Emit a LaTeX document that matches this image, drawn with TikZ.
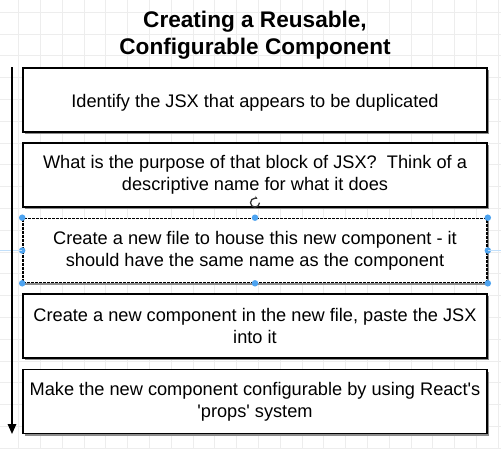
\documentclass[tikz,border=0pt]{standalone}
\usepackage{fontspec}
\setmainfont{Liberation Sans}[Ligatures=TeXOff]
\usetikzlibrary{calc,shadows,arrows.meta}

\definecolor{handle}{RGB}{77,163,240}

\begin{document}
\begin{tikzpicture}[x=1pt,y=-1pt,
   stepbox/.style={draw=black,line width=1.6pt,fill=white,
      minimum width=464pt,minimum height=64pt,inner sep=0pt,align=center,
      font=\fontsize{18.2}{21.8}\selectfont,
      execute at begin node={\rule{0pt}{19.5pt}},
      drop shadow={shadow xshift=2.2pt,shadow yshift=-2.2pt,fill=black!45,opacity=1}},
   grip/.style={fill=handle,draw=none,circle,minimum size=6.5pt,inner sep=0pt}]
   \useasboundingbox (0,0) rectangle (501,448);
   % draw grid
   \foreach \gx in {0,...,22}
      \draw[black!7,line width=0.6pt] ({18.4+21.8*\gx},0) -- ++(0,448);
   \foreach \gy in {0,...,20}
      \draw[black!7,line width=0.6pt] (0,{12+21.8*\gy}) -- ++(501,0);
   % title
   \node (title) [align=center,inner sep=0pt,font=\fontsize{22.6}{27}\selectfont\bfseries]
      at (255,35.6) {Creating a Reusable,\\Configurable Component};
   % steps
   \node (identify) [stepbox] at (255,100) {Identify the JSX that appears to be duplicated};
   \node (purpose) [stepbox] at (255,175)
      {What is the purpose of that block of JSX?\ \ Think of a\\descriptive name for what it does};
   \node (newfile) [stepbox,dash pattern=on 3pt off 1pt] at (255,250.5)
      {Create a new file to house this new component - it\\should have the same name as the component};
   \node (newcomp) [stepbox] at (255,326)
      {Create a new component in the new file, paste the JSX\\into it};
   \node (config) [stepbox] at (255,401.5)
      {Make the new component configurable by using React's\\'props' system};
   % selection handles
   \foreach \an in {north west,north,north east,west,east,south west,south,south east}
      \node[grip] at (newfile.\an) {};
   \draw[handle!35,line width=1.2pt] (newfile.west) -- ++(-22,0);
   \draw[handle!35,line width=1.2pt] (newfile.east) -- ++(14,0);
   \draw[black!80,line width=1.3pt,-{Stealth[length=3pt,width=3.5pt]}]
      ($(newfile.north)+(0,-15)$) ++(4.5,0) arc[start angle=0,end angle=300,radius=4.5];
   % draw arrow
   \coordinate (start) at (12,67);
   \coordinate (finish) at (12,434);
   \draw[line width=1.6pt,-{Triangle[length=10pt,width=8.5pt]}] (start) -- (finish);
\end{tikzpicture}
\end{document}
